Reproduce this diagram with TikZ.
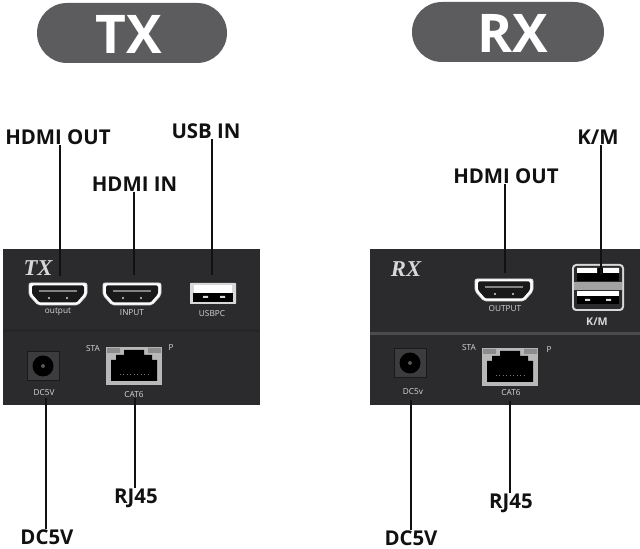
\documentclass[tikz,border=0pt]{standalone}
\usepackage{fontspec}
\setmainfont{Open Sans}
\newfontfamily\markfont{Liberation Serif}
\definecolor{panel}{HTML}{2B2B2D}
\definecolor{pill}{HTML}{5C5C5E}
\definecolor{ink}{HTML}{111111}
\definecolor{silk}{HTML}{D8D8D8}
\newcommand{\hdmi}[2]{% name, centre
  \begin{scope}[shift={(#2)}]
    \fill[white,draw=silk,line width=.6pt,rounded corners=1.5pt] (-29,-11)--(29,-11)--(29,1)--(20,11)--(-20,11)--(-29,1)--cycle;
    \fill[black!90,rounded corners=1pt] (-26,-8.5)--(26,-8.5)--(26,0)--(18.5,8.5)--(-18.5,8.5)--(-26,0)--cycle;
    \fill[silk!60!black] (-19,-3.5) rectangle (19,-2);
    \fill[silk] (-9,4) circle (1.1) (9,4) circle (1.1);
  \end{scope}
  \coordinate (#1) at (#2);}
\newcommand{\rjport}[2]{%
  \begin{scope}[shift={(#2)}]
    \fill[silk!85!black] (-28,-19) rectangle (28,19);
    \fill[black] (-23,-6)--(-18,-6)--(-18,-11)--(-10,-11)--(-10,-16)--(10,-16)--(10,-11)--(18,-11)--(18,-6)--(23,-6)--(23,15)--(-23,15)--cycle;
    \fill[white!55!black] (-27,-18) rectangle (-14,-13) (14,-18) rectangle (27,-13);
    \draw[silk!55!black,line width=.6pt,dotted] (-14,8)--(14,8);
  \end{scope}
  \coordinate (#1) at (#2);}
\newcommand{\dcjack}[2]{%
  \begin{scope}[shift={(#2)}]
    \fill[black!90] (-16,-15) rectangle (17,15);
    \fill[panel!92!white] (-15,-14) rectangle (16,14);
    \fill[black] (0,0) circle (10.5);
    \fill[silk!40!black] (0,0) circle (2);
  \end{scope}
  \coordinate (#1) at (#2);}
\tikzset{
  pilltext/.style={text=white,font=\fontsize{40}{40}\selectfont\bfseries,inner sep=0pt},
  callout/.style={text=ink,font=\fontsize{15.3}{16}\selectfont\bfseries,inner sep=0pt},
  silktext/.style={text=silk,font=\fontsize{6.2}{7}\selectfont,inner sep=0pt},
  marktext/.style={text=silk,font=\markfont\fontsize{17}{17}\selectfont\bfseries\itshape,inner sep=0pt},
  wire/.style={draw=ink,line width=1.5pt}
}
\begin{document}
\begin{tikzpicture}[x=0.75pt,y=-0.75pt]
\useasboundingbox (0,0) rectangle (640,549);
\fill[white] (0,0) rectangle (640,549);
% pills
\fill[pill,rounded corners=22.5pt] (37,3) rectangle (227,63);
\fill[pill,rounded corners=22.5pt] (412,2) rectangle (604,62);
\node[pilltext] (txt) at (129,34) {TX};
\node[pilltext] (rxt) at (513,33) {RX};
% panels
\fill[panel] (3,249) rectangle (260,405);
\fill[black!85] (3,329) rectangle (260,332);
\fill[panel] (370,249) rectangle (640,405);
\fill[silk!35!black] (370,332) rectangle (640,335);
% TX ports
\hdmi{txo}{58,294}
\hdmi{txi}{132,294}
\fill[silk,rounded corners=.5pt] (190,283) rectangle (236,304);
\fill[black] (193,293) rectangle (233,302);
\fill[white] (194,285) rectangle (232,293);
\fill[silk] (203,296) rectangle (208,298) (220,296) rectangle (225,298);
\coordinate (txu) at (212,294);
\dcjack{txd}{43,366}
\rjport{txr}{134,366}
% RX ports
\hdmi{rxo}{504,290}
\fill[silk,rounded corners=3pt] (572,264) rectangle (624,311);
\fill[panel,rounded corners=2pt] (574,266) rectangle (622,309);
\fill[black] (577,268) rectangle (619,281);
\fill[white] (577,268) rectangle (597,273) (603,268) rectangle (619,273);
\fill[silk!75!black] (574,282) rectangle (622,290);
\fill[black] (577,291) rectangle (619,304);
\fill[white] (577,291) rectangle (619,296);
\fill[silk] (585,299) rectangle (590,301) (606,299) rectangle (611,301);
\coordinate (rxu) at (598,276);
\dcjack{rxd}{410,363}
\rjport{rxr}{510,367}
% panel marks
\node[marktext] (txm) at (38,268) {TX};
\node[marktext] (rxm) at (406,269) {RX};
\node[silktext] (l1) at (58,312) {output};
\node[silktext] (l2) at (132,313) {INPUT};
\node[silktext] (l3) at (212,314) {USBPC};
\node[silktext] (l4) at (44,393) {DC5V};
\node[silktext] (l5) at (134,395) {CAT6};
\node[silktext] (l6) at (93,349) {STA};
\node[silktext] (l7) at (171,348) {P};
\node[silktext] (l8) at (505,309) {OUTPUT};
\node[text=silk,font=\fontsize{8}{9}\selectfont\bfseries,inner sep=0pt] (l9) at (597,322) {K/M};
\node[silktext] (l10) at (413,392) {DC5v};
\node[silktext] (l11) at (511,393) {CAT6};
\node[silktext] (l12) at (469,348) {STA};
\node[silktext] (l13) at (549,350) {P};
% callouts
\node[callout] (a) at (58,137) {HDMI OUT};
\node[callout] (b) at (134.5,184) {HDMI IN};
\node[callout] (c) at (206,131) {USB IN};
\node[callout] (d) at (598,137) {K/M};
\node[callout] (e) at (506,176) {HDMI OUT};
\node[callout] (f) at (47,537) {DC5V};
\node[callout] (g) at (136,498) {RJ45};
\node[callout] (h) at (411,538) {DC5V};
\node[callout] (i) at (511,503) {RJ45};
% anchors on panels
\coordinate (pa) at (60,276);
\coordinate (pb) at (134,275);
\coordinate (pc) at (212,275);
\coordinate (pd) at (601,275);
\coordinate (pe) at (505,273);
\coordinate (pf) at (46,398);
\coordinate (pg) at (135,398);
\coordinate (ph) at (411,400);
\coordinate (pi) at (510,401);
\draw[wire] (a.south -| pa) -- (pa);
\draw[wire] (b.south -| pb) -- (pb);
\draw[wire] (c.south -| pc) -- (pc);
\draw[wire] (d.south -| pd) -- (pd);
\draw[wire] (e.south -| pe) -- (pe);
\draw[wire] (f.north -| pf) -- (pf);
\draw[wire] (g.north -| pg) -- (pg);
\draw[wire] (h.north -| ph) -- (ph);
\draw[wire] (i.north -| pi) -- (pi);
\end{tikzpicture}
\end{document}
